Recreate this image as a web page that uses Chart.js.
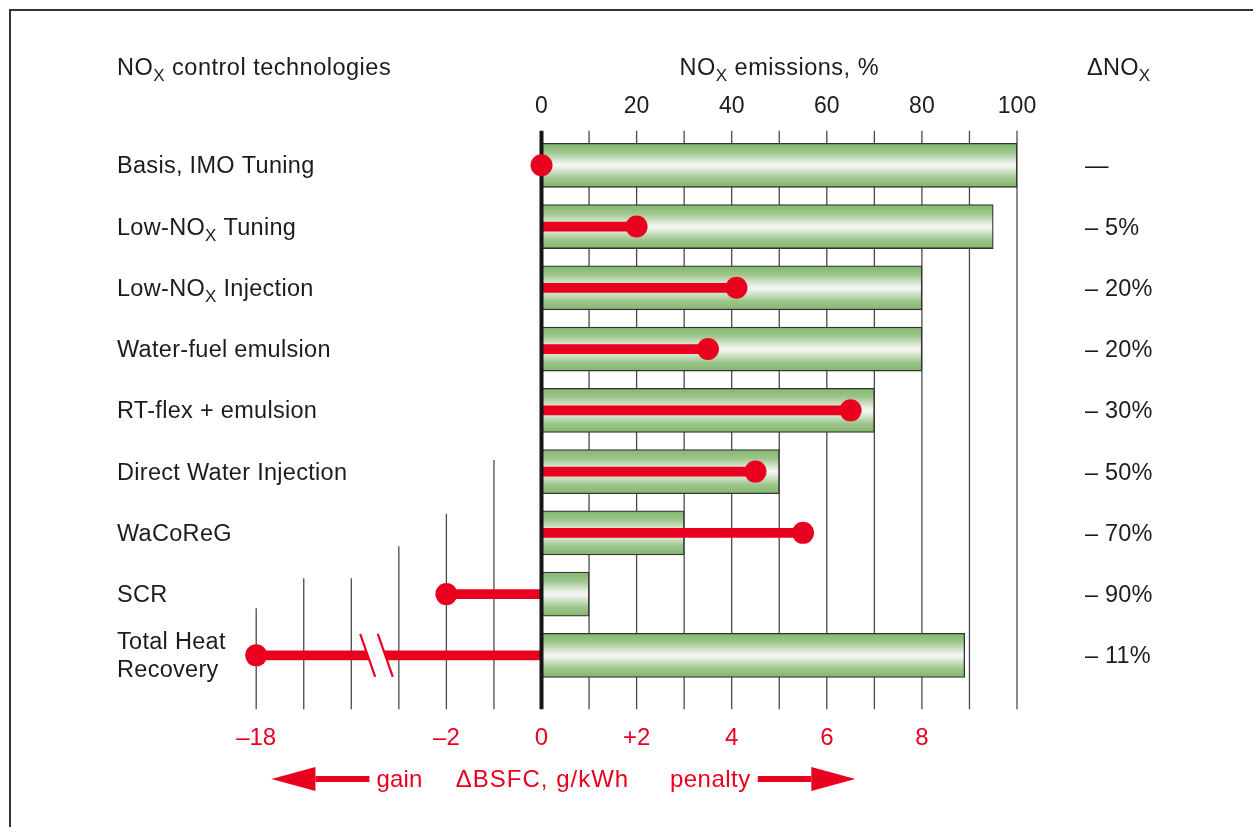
<!DOCTYPE html>
<html>
<head>
<meta charset="utf-8">
<title>NOx control technologies</title>
<script src="https://cdn.jsdelivr.net/npm/chart.js@4.4.1/dist/chart.umd.min.js"></script>
<style>
  body { margin: 0; background: #fff; }
  #wrap { position: relative; width: 1253px; height: 827px; overflow: hidden; }
  #frame { position: absolute; left: 9px; top: 9px; right: -5px; bottom: -5px; border-top: 2px solid #333; border-left: 2px solid #333; pointer-events: none; }
  canvas { position: absolute; left: 0; top: 0; }
</style>
</head>
<body>
<div id="wrap">
  <canvas id="grafico" width="1253" height="827"></canvas>
  <div id="frame"></div>
</div>
<script>
// datos
const technologies = ['Basis, IMO Tuning', 'Low-NOX Tuning', 'Low-NOX Injection', 'Water-fuel emulsion',
  'RT-flex + emulsion', 'Direct Water Injection', 'WaCoReG', 'SCR', ['Total Heat', 'Recovery']];
const noxEmissions = [100, 95, 80, 80, 70, 50, 30, 10, 89];       // NOx emissions, %
const bsfcChange = [0, 2, 4.1, 3.5, 6.5, 4.5, 5.5, -2, -18];      // dBSFC, g/kWh
const noxReduction = ['\u2014', '\u2013 5%', '\u2013 20%', '\u2013 20%', '\u2013 30%', '\u2013 50%', '\u2013 70%', '\u2013 90%', '\u2013 11%'];
const noxTicks = [0, 20, 40, 60, 80, 100];
const bsfcTicks = [-18, -2, 0, 2, 4, 6, 8];
const bsfcTickLabels = ['\u201318', '\u20132', '0', '+2', '4', '6', '8'];

// eje BSFC cortado: todo lo que pasa de -15 se corre 12 unidades
function bsfcPos(v) {
  return v < -15 ? v + 12 : v;
}

const RED = '#e9001f';
const INK = '#1c1c1c';
const FONT = '"Liberation Sans", Arial, Helvetica, sans-serif';
const SIZE = 23.5;
Chart.defaults.font.family = FONT;

// texto con NOX -> NO + X en subindice
function drawRich(ctx, text, x, y, size, align, color, spacing) {
  const segs = [];
  text.split('NOX').forEach((p, i, arr) => {
    if (p) segs.push({ t: p, sub: false });
    if (i < arr.length - 1) {
      segs.push({ t: 'NO', sub: false });
      segs.push({ t: 'X', sub: true });
    }
  });
  const fontN = size + 'px ' + FONT;
  const fontS = Math.round(size * 0.72) + 'px ' + FONT;
  ctx.letterSpacing = (spacing || 0) + 'px';
  let w = 0;
  segs.forEach(s => {
    ctx.font = s.sub ? fontS : fontN;
    s.w = ctx.measureText(s.t).width;
    w += s.w;
  });
  let cx = align === 'center' ? x - w / 2 : align === 'right' ? x - w : x;
  ctx.textAlign = 'left';
  ctx.textBaseline = 'alphabetic';
  ctx.fillStyle = color || INK;
  segs.forEach(s => {
    ctx.font = s.sub ? fontS : fontN;
    ctx.fillText(s.t, cx, s.sub ? y + size * 0.27 : y);
    cx += s.w;
  });
  ctx.letterSpacing = '0px';
  return w;
}

function arrow(ctx, x0, x1, y) {
  // x1 es la punta
  const dir = x1 > x0 ? 1 : -1;
  const head = 44;
  ctx.fillStyle = RED;
  ctx.fillRect(Math.min(x0, x1 - dir * head), y - 3, Math.abs(x1 - dir * head - x0), 6);
  ctx.beginPath();
  ctx.moveTo(x1, y);
  ctx.lineTo(x1 - dir * head, y - 12);
  ctx.lineTo(x1 - dir * head, y + 12);
  ctx.closePath();
  ctx.fill();
}

const decor = {
  id: 'decor',
  beforeDatasetsDraw(chart) {
    const ctx = chart.ctx;
    const xs = chart.scales.x2;
    const ys = chart.scales.y;
    // inicio de cada linea de la rejilla (en filas)
    const gridStart = { '-1': 4.81, '-2': 5.69, '-3': 6.22, '-4': 6.74, '-5': 6.74, '-6': 7.23 };
    ctx.save();
    ctx.strokeStyle = '#4a4a4a';
    ctx.lineWidth = 1.3;
    for (let v = -6; v <= 10; v++) {
      if (v === 0) continue;
      const px = xs.getPixelForValue(v);
      const top = ys.getPixelForValue(v > 0 ? -0.565 : gridStart[v]);
      const bottom = ys.getPixelForValue(8.88);
      ctx.beginPath();
      ctx.moveTo(px, top);
      ctx.lineTo(px, bottom);
      ctx.stroke();
    }
    ctx.restore();
  },
  afterDatasetDraw(chart, args) {
    if (args.index !== 1) return;
    const ctx = chart.ctx;
    const xs = chart.scales.x2;
    const ys = chart.scales.y;
    ctx.save();
    // corte del eje en la ultima fila
    const yc = ys.getPixelForValue(8);
    const xb = xs.getPixelForValue(-3.47);
    const k = 15 / 43;
    const x1 = xb - 8.8, x2 = xb + 8.8;
    ctx.fillStyle = '#fff';
    ctx.beginPath();
    ctx.moveTo(x1 - 7 * k, yc - 7);
    ctx.lineTo(x2 - 7 * k, yc - 7);
    ctx.lineTo(x2 + 7 * k, yc + 7);
    ctx.lineTo(x1 + 7 * k, yc + 7);
    ctx.closePath();
    ctx.fill();
    ctx.strokeStyle = RED;
    ctx.lineWidth = 2.2;
    [x1, x2].forEach(x => {
      ctx.beginPath();
      ctx.moveTo(x - 21.5 * k, yc - 21.5);
      ctx.lineTo(x + 21.5 * k, yc + 21.5);
      ctx.stroke();
    });
    // linea del cero
    const p0 = xs.getPixelForValue(0);
    ctx.strokeStyle = '#151515';
    ctx.lineWidth = 4;
    ctx.beginPath();
    ctx.moveTo(p0, ys.getPixelForValue(-0.565));
    ctx.lineTo(p0, ys.getPixelForValue(8.88));
    ctx.stroke();
    ctx.restore();
  },
  afterDraw(chart) {
    const ctx = chart.ctx;
    const xs = chart.scales.x2;
    const xn = chart.scales.x;
    const ys = chart.scales.y;
    ctx.save();
    drawRich(ctx, 'NOX control technologies', 117, 75, SIZE, 'left', INK, 0.5);
    drawRich(ctx, 'NOX emissions, %', xn.getPixelForValue(50), 75, SIZE, 'center', INK, 0.5);
    drawRich(ctx, '\u0394NOX', 1087, 75, SIZE, 'left', INK, 0.3);

    technologies.forEach((t, i) => {
      const yc = ys.getPixelForValue(i);
      if (Array.isArray(t)) {
        drawRich(ctx, t[0], 117, yc - 6, SIZE, 'left', INK, 0.3);
        drawRich(ctx, t[1], 117, yc + 22, SIZE, 'left', INK, 0.3);
      } else {
        drawRich(ctx, t, 117, yc + 8, SIZE, 'left', INK, 0.3);
      }
      drawRich(ctx, noxReduction[i], 1085, yc + 8, SIZE, 'left', INK, 0.2);
    });

    // leyenda del eje BSFC
    const ya = 779;
    drawRich(ctx, '\u0394BSFC, g/kWh', xs.getPixelForValue(0) + 1, ya + 8, 24, 'center', RED, 1.0);
    const gainRight = xs.getPixelForValue(-2.5);
    const wg = drawRich(ctx, 'gain', gainRight, ya + 8, 24, 'right', RED, 0.2);
    arrow(ctx, gainRight - wg - 7, xs.getPixelForValue(-5.68), ya);
    const penLeft = xs.getPixelForValue(2.7);
    const wp = drawRich(ctx, 'penalty', penLeft, ya + 8, 24, 'left', RED, 0.5);
    arrow(ctx, penLeft + wp + 7, xs.getPixelForValue(6.6), ya);
    ctx.restore();
  }
};

function barGradient(c) {
  const chart = c.chart;
  const ys = chart.scales.y;
  if (!ys || ys.top === undefined) return '#8cbc7a';
  const yc = ys.getPixelForValue(c.dataIndex);
  const g = chart.ctx.createLinearGradient(0, yc - 22, 0, yc + 22);
  g.addColorStop(0, '#82b66d');
  g.addColorStop(0.2, '#9dc68c');
  g.addColorStop(0.42, '#e2ecdd');
  g.addColorStop(0.5, '#f7f7f5');
  g.addColorStop(0.58, '#e2ecdd');
  g.addColorStop(0.8, '#9dc68c');
  g.addColorStop(1, '#82b66d');
  return g;
}

const chart = new Chart(document.getElementById('grafico').getContext('2d'), {
  type: 'bar',
  data: {
    labels: technologies,
    datasets: [
      {
        label: 'NOx emissions, %',
        data: noxEmissions,
        xAxisID: 'x',
        yAxisID: 'y',
        backgroundColor: barGradient,
        borderColor: '#333',
        borderWidth: 1.3,
        borderSkipped: false,
        barThickness: 44,
        grouped: false,
        order: 3
      },
      {
        label: 'BSFC',
        data: bsfcChange.map(v => [0, bsfcPos(v)]),
        xAxisID: 'x2',
        yAxisID: 'y',
        backgroundColor: RED,
        borderWidth: 0,
        barThickness: 9,
        grouped: false,
        order: 2
      },
      {
        type: 'line',
        label: 'BSFC points',
        data: bsfcChange.map(bsfcPos),
        xAxisID: 'x2',
        yAxisID: 'y',
        showLine: false,
        pointRadius: 11,
        pointHoverRadius: 11,
        pointBackgroundColor: RED,
        pointBorderWidth: 0,
        clip: false,
        order: 1
      }
    ]
  },
  options: {
    indexAxis: 'y',
    responsive: false,
    animation: false,
    devicePixelRatio: 1,
    layout: { padding: { left: 256.2, right: 236, top: 90, bottom: 40 } },
    plugins: { legend: { display: false }, tooltip: { enabled: false } },
    scales: {
      x: {
        type: 'linear',
        position: 'top',
        min: -60,
        max: 100,
        grid: { display: false, drawTicks: false },
        border: { display: false },
        afterBuildTicks: s => { s.ticks = noxTicks.map(v => ({ value: v })); },
        afterFit: s => { s.height = 44.7; },
        ticks: { color: INK, font: { size: 23 }, padding: 13.9, autoSkip: false, maxRotation: 0 }
      },
      x2: {
        type: 'linear',
        position: 'bottom',
        min: -6,
        max: 10,
        grid: { display: false, drawTicks: false },
        border: { display: false },
        afterBuildTicks: s => { s.ticks = bsfcTicks.map(v => ({ value: bsfcPos(v) })); },
        afterFit: s => { s.height = 101; },
        ticks: {
          color: RED,
          font: { size: 24 },
          padding: 37.6,
          autoSkip: false,
          maxRotation: 0,
          callback: (v, i) => bsfcTickLabels[i]
        }
      },
      y: {
        type: 'category',
        display: false,
        offset: true
      }
    }
  },
  plugins: [decor]
});
</script>
</body>
</html>
